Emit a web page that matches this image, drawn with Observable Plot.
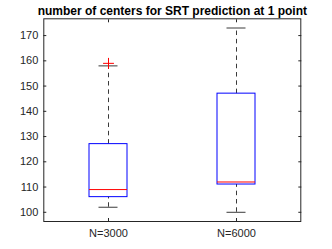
<!DOCTYPE html>
<html>
<head>
<meta charset="utf-8">
<script src="https://cdn.jsdelivr.net/npm/d3@7"></script>
<script src="https://cdn.jsdelivr.net/npm/@observablehq/plot@0.6"></script>
<style>
  html, body { margin: 0; padding: 0; background: #fff; }
  #chart svg { display: block; }
</style>
</head>
<body>
<div id="chart"></div>
<script>
const titleText = "number of centers for SRT prediction at 1 point";
const categories = ["N=3000", "N=6000"];
const q1 = [106, 111];
const median = [109, 112];
const q3 = [127, 147];
const whiskerLow = [102, 100];
const whiskerHigh = [158, 173];
const outlierCategory = ["N=3000"];
const outlierValue = [159];
const yTicks = [100, 110, 120, 130, 140, 150, 160, 170];
const yDomain = [96.35, 176.65];

const boxes = categories.map((c, i) => ({
  cat: c, q1: q1[i], med: median[i], q3: q3[i], lo: whiskerLow[i], hi: whiskerHigh[i]
}));
const outliers = outlierCategory.map((c, i) => ({cat: c, v: outlierValue[i]}));

const axisColor = "#262626";
const whiskerColor = "#3a3a3a";
const font = "Liberation Sans, Arial, Helvetica, sans-serif";

const chart = Plot.plot({
  width: 332,
  height: 249,
  marginLeft: 43.3,
  marginRight: 31.7,
  marginTop: 18.3,
  marginBottom: 28,
  style: {fontFamily: font, fontSize: "11px", color: axisColor, background: "#fff", overflow: "visible"},
  x: {type: "band", domain: categories, paddingInner: 0.7, paddingOuter: 0.35, axis: null},
  y: {domain: yDomain, axis: null},
  marks: [
    // whiskers
    Plot.ruleX(boxes, {x: "cat", y1: "q3", y2: "hi", stroke: whiskerColor, strokeDasharray: "4.5,3.8"}),
    Plot.ruleX(boxes, {x: "cat", y1: "lo", y2: "q1", stroke: whiskerColor, strokeDasharray: "4.5,3.8"}),
    Plot.tickY(boxes, {x: "cat", y: "hi", stroke: whiskerColor, insetLeft: 9.5, insetRight: 9.5}),
    Plot.tickY(boxes, {x: "cat", y: "lo", stroke: whiskerColor, insetLeft: 9.5, insetRight: 9.5}),
    // boxes
    Plot.barY(boxes, {x: "cat", y1: "q1", y2: "q3", fill: "none", stroke: "#0000ff", strokeWidth: 1}),
    Plot.tickY(boxes, {x: "cat", y: "med", stroke: "#ff0000"}),
    // outliers
    Plot.dot(outliers, {x: "cat", y: "v", symbol: "plus", r: 3.6, stroke: "#ff0000", strokeWidth: 1}),
    // frame
    Plot.frame({stroke: axisColor, strokeWidth: 1}),
    // axes
    Plot.axisY({anchor: "left", ticks: yTicks, tickSize: -3, tickPadding: 8.5, label: null, color: axisColor}),
    Plot.axisY({anchor: "right", ticks: yTicks, tickSize: -3, tickFormat: () => "", label: null, color: axisColor}),
    Plot.axisX({anchor: "bottom", tickSize: -3, tickPadding: 10.5, label: null, color: axisColor}),
    Plot.axisX({anchor: "top", tickSize: -3, tickFormat: () => "", label: null, color: axisColor}),
    // title
    Plot.text([titleText], {text: d => d, frameAnchor: "top", dy: -3.8, lineAnchor: "bottom",
      fontWeight: "bold", fontSize: 12, fill: "#000"})
  ]
});
document.getElementById("chart").appendChild(chart);
</script>
</body>
</html>
